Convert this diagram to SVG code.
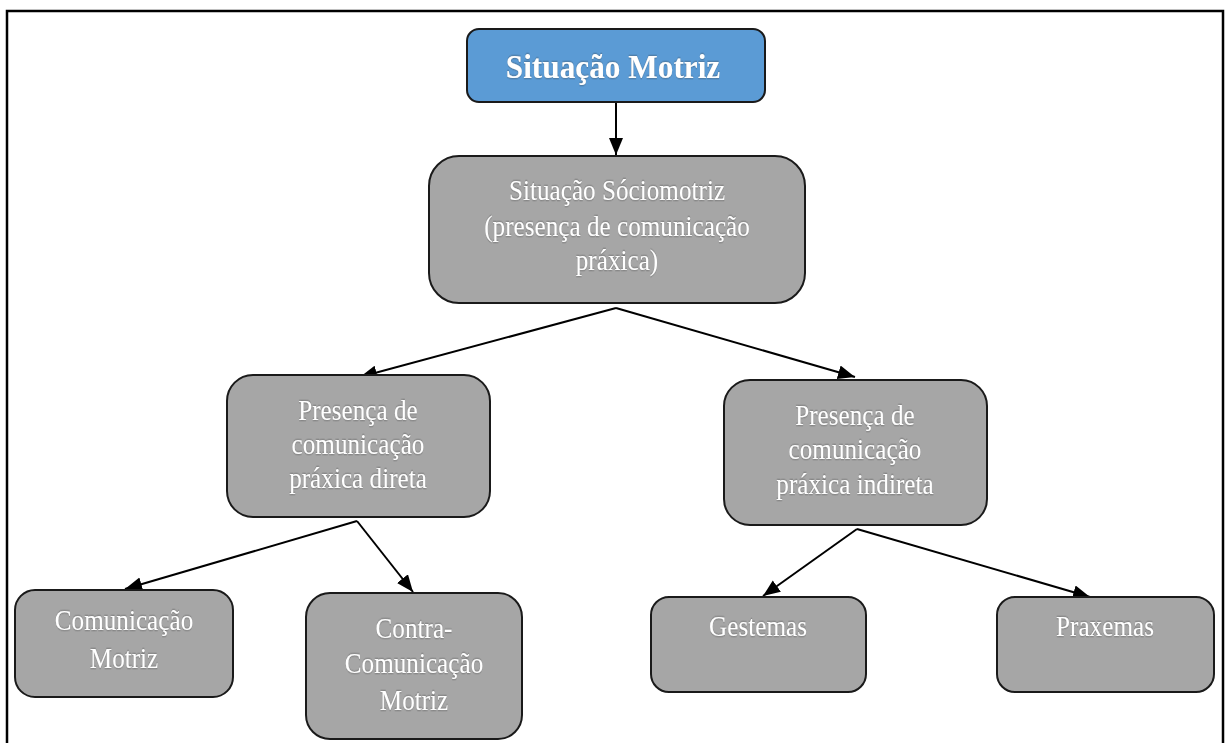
<svg xmlns="http://www.w3.org/2000/svg" width="1225" height="743" viewBox="0 0 1225 743">
<defs>
<style>
.box{fill:#a6a6a6;stroke:#1a1a1a;stroke-width:2}
.top{fill:#5b9bd5;stroke:#1a1a1a;stroke-width:2}
.t{font-family:"Liberation Serif","Times New Roman",serif;font-size:30px;fill:#ffffff;text-anchor:middle;filter:url(#sh)}
.tb{font-family:"Liberation Serif","Times New Roman",serif;font-size:34px;font-weight:bold;fill:#ffffff;text-anchor:middle;filter:url(#sh)}
.c{stroke:#000;stroke-width:2;fill:none;marker-end:url(#ah)}
</style>
<filter id="sh" x="-10%" y="-30%" width="120%" height="160%">
<feDropShadow dx="0" dy="0" stdDeviation="0.8" flood-color="#333" flood-opacity="0.8"/>
</filter>
<marker id="ah" markerUnits="userSpaceOnUse" markerWidth="20" markerHeight="16" refX="17" refY="7" orient="auto">
<path d="M0,0 L17,7 L0,14 z" fill="#000"/>
</marker>
</defs>
<rect x="0" y="0" width="1225" height="743" fill="#ffffff"/>
<rect x="7" y="11" width="1216" height="800" fill="none" stroke="#000" stroke-width="2.5"/>

<g id="connectors">
<line class="c" x1="616" y1="103" x2="616" y2="155"/>
<line class="c" x1="616" y1="308" x2="360" y2="377"/>
<line class="c" x1="616" y1="308" x2="855" y2="377"/>
<line class="c" x1="357" y1="521" x2="125" y2="589"/>
<line class="c" x1="357" y1="521" x2="413" y2="592"/>
<line class="c" x1="857" y1="529" x2="763" y2="596"/>
<line class="c" x1="857" y1="529" x2="1090" y2="597"/>
</g>

<g id="n-situacao-motriz">
<rect class="top" x="467" y="29" width="298" height="73" rx="12"/>
<text class="tb" transform="translate(613,78) scale(0.92,1)" x="0" y="0">Situação Motriz</text>
</g>

<g id="n-sociomotriz">
<rect class="box" x="429" y="156" width="376" height="147" rx="30"/>
<g transform="translate(617,0) scale(0.84,1)">
<text class="t" x="0" y="200">Situação Sóciomotriz</text>
<text class="t" x="0" y="236">(presença de comunicação</text>
<text class="t" x="0" y="270">práxica)</text>
</g>
</g>

<g id="n-direta">
<rect class="box" x="227" y="375" width="263" height="142" rx="26"/>
<g transform="translate(358,0) scale(0.84,1)">
<text class="t" x="0" y="420">Presença de</text>
<text class="t" x="0" y="454">comunicação</text>
<text class="t" x="0" y="488">práxica direta</text>
</g>
</g>

<g id="n-indireta">
<rect class="box" x="724" y="380" width="263" height="145" rx="26"/>
<g transform="translate(855,0) scale(0.84,1)">
<text class="t" x="0" y="425">Presença de</text>
<text class="t" x="0" y="459">comunicação</text>
<text class="t" x="0" y="494">práxica indireta</text>
</g>
</g>

<g id="n-comunicacao-motriz">
<rect class="box" x="15" y="590" width="218" height="107" rx="20"/>
<g transform="translate(124,0) scale(0.84,1)">
<text class="t" x="0" y="630">Comunicação</text>
<text class="t" x="0" y="668">Motriz</text>
</g>
</g>

<g id="n-contra-comunicacao">
<rect class="box" x="306" y="593" width="216" height="146" rx="24"/>
<g transform="translate(414,0) scale(0.84,1)">
<text class="t" x="0" y="638">Contra-</text>
<text class="t" x="0" y="673">Comunicação</text>
<text class="t" x="0" y="710">Motriz</text>
</g>
</g>

<g id="n-gestemas">
<rect class="box" x="651" y="597" width="215" height="95" rx="18"/>
<g transform="translate(758,0) scale(0.84,1)">
<text class="t" x="0" y="636">Gestemas</text>
</g>
</g>

<g id="n-praxemas">
<rect class="box" x="997" y="597" width="217" height="95" rx="18"/>
<g transform="translate(1105,0) scale(0.84,1)">
<text class="t" x="0" y="636">Praxemas</text>
</g>
</g>
</svg>
